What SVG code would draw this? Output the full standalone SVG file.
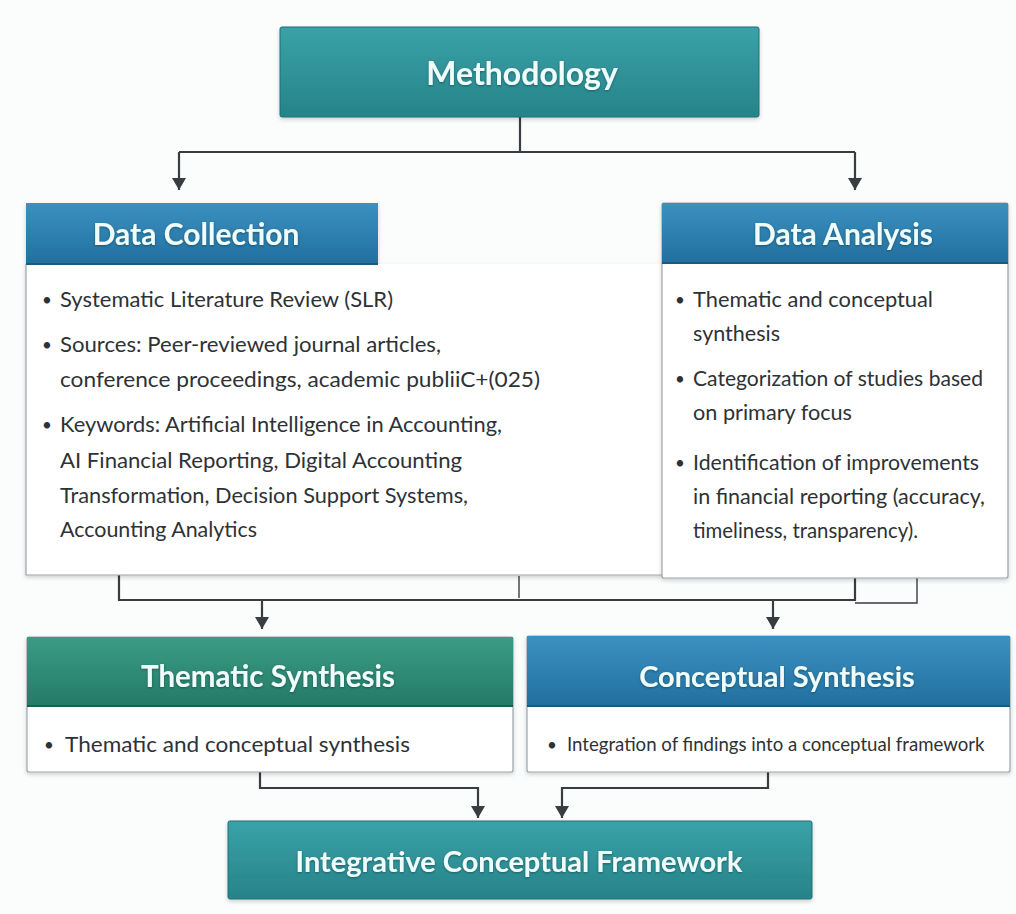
<svg xmlns="http://www.w3.org/2000/svg" width="1016" height="914" viewBox="0 0 1016 914">
  <defs>
    <style>
      .title { font-family: Lato, "Open Sans", sans-serif; font-weight: 700; fill: #effcfa; text-anchor: middle; }
      .body { font-family: Lato, "Open Sans", sans-serif; font-size: 21px; fill: #2d3236; }
      .body-sm { font-family: Lato, "Open Sans", sans-serif; font-size: 18.6px; fill: #2d3236; }
      .dot { font-family: Lato, "Open Sans", sans-serif; font-size: 17px; fill: #2d3236; }
      .card { fill: #ffffff; stroke: #9aa3aa; stroke-width: 1.2; }
      .conn { fill: none; stroke: #3a3d40; stroke-width: 2.2; }
      .thin { fill: none; stroke: #3a3d40; stroke-width: 1.4; }
    </style>
    <linearGradient id="teal" x1="0" y1="0" x2="0" y2="1">
      <stop offset="0" stop-color="#3aa2a8"/>
      <stop offset="1" stop-color="#268389"/>
    </linearGradient>
    <linearGradient id="blue" x1="0" y1="0" x2="0" y2="1">
      <stop offset="0" stop-color="#3a91c0"/>
      <stop offset="1" stop-color="#226f9f"/>
    </linearGradient>
    <linearGradient id="green" x1="0" y1="0" x2="0" y2="1">
      <stop offset="0" stop-color="#3a9c86"/>
      <stop offset="1" stop-color="#247a67"/>
    </linearGradient>
    <filter id="shadow" x="-5%" y="-5%" width="110%" height="115%">
      <feDropShadow dx="0" dy="2" stdDeviation="2" flood-color="#000" flood-opacity="0.18"/>
    </filter>
    <filter id="tshadow" x="-5%" y="-20%" width="110%" height="140%">
      <feDropShadow dx="0" dy="1" stdDeviation="1" flood-color="#0b3a40" flood-opacity="0.6"/>
    </filter>
    <marker id="arrowDown" viewBox="0 0 14 12" refX="7" refY="12" markerWidth="14" markerHeight="12" markerUnits="userSpaceOnUse" orient="0">
      <path d="M0,0 L14,0 L7,12 Z" fill="#3a3d40"/>
    </marker>
  </defs>

  <rect width="1016" height="914" fill="#fbfdfd"/>

  <!-- connectors -->
  <g id="connectors">
    <path class="conn" d="M520,117 V152"/>
    <path class="conn" d="M179,152 H855"/>
    <path class="conn" d="M179,152 V190" marker-end="url(#arrowDown)"/>
    <path class="conn" d="M855,152 V190" marker-end="url(#arrowDown)"/>

    <path class="conn" d="M119,575 V600 H855 V578"/>
    <path class="thin" d="M519,576 V598"/>
    <path class="thin" d="M855,603 H917 V578"/>
    <path class="conn" d="M262,600 V629" marker-end="url(#arrowDown)"/>
    <path class="conn" d="M773,600 V629" marker-end="url(#arrowDown)"/>

    <path class="conn" d="M260,772 V788 H478 V818" marker-end="url(#arrowDown)"/>
    <path class="conn" d="M768,772 V788 H562 V818" marker-end="url(#arrowDown)"/>
  </g>

  <!-- Methodology -->
  <g id="methodology" filter="url(#shadow)">
    <rect x="280" y="27" width="479" height="90" rx="2" fill="url(#teal)" stroke="#1f6f74" stroke-width="1"/>
    <text class="title" x="522" y="85" font-size="32" filter="url(#tshadow)">Methodology</text>
  </g>

  <!-- Data Collection -->
  <g id="data-collection">
    <g filter="url(#shadow)">
      <rect x="26" y="264" width="636" height="311" fill="#ffffff"/>
      <path d="M26,264 V575 H662" fill="none" stroke="#9aa3aa" stroke-width="1.2"/>
      <rect x="26" y="203" width="352" height="61" fill="url(#blue)"/>
    </g>
    <line x1="26" y1="264" x2="378" y2="264" stroke="#1a5a80" stroke-width="2"/>
    <text class="title" x="196" y="245" font-size="30" filter="url(#tshadow)">Data Collection</text>
    <g class="dot">
      <text x="42" y="306">•</text>
      <text x="42" y="351">•</text>
      <text x="42" y="431">•</text>
    </g>
    <g class="body">
      <text x="60" y="307" textLength="333" lengthAdjust="spacingAndGlyphs">Systematic Literature Review (SLR)</text>
      <text x="60" y="352" textLength="381" lengthAdjust="spacingAndGlyphs">Sources: Peer-reviewed journal articles,</text>
      <text x="60" y="387" textLength="480" lengthAdjust="spacingAndGlyphs">conference proceedings, academic publiiC+(025)</text>
      <text x="60" y="432" textLength="442" lengthAdjust="spacingAndGlyphs">Keywords: Artificial Intelligence in Accounting,</text>
      <text x="60" y="468" textLength="402" lengthAdjust="spacingAndGlyphs">AI Financial Reporting, Digital Accounting</text>
      <text x="60" y="503" textLength="408" lengthAdjust="spacingAndGlyphs">Transformation, Decision Support Systems,</text>
      <text x="60" y="537" textLength="197" lengthAdjust="spacingAndGlyphs">Accounting Analytics</text>
    </g>
  </g>

  <!-- Data Analysis -->
  <g id="data-analysis">
    <rect class="card" x="662" y="203" width="346" height="375" rx="2" filter="url(#shadow)"/>
    <rect x="662" y="203" width="346" height="60" fill="url(#blue)"/>
    <line x1="662" y1="263" x2="1008" y2="263" stroke="#1a5a80" stroke-width="2"/>
    <text class="title" x="843" y="245" font-size="30" filter="url(#tshadow)">Data Analysis</text>
    <g class="dot">
      <text x="675" y="306">•</text>
      <text x="675" y="385">•</text>
      <text x="675" y="469">•</text>
    </g>
    <g class="body">
      <text x="693" y="307" textLength="240" lengthAdjust="spacingAndGlyphs">Thematic and conceptual</text>
      <text x="693" y="341" textLength="87" lengthAdjust="spacingAndGlyphs">synthesis</text>
      <text x="693" y="386" textLength="290" lengthAdjust="spacingAndGlyphs">Categorization of studies based</text>
      <text x="693" y="420" textLength="159" lengthAdjust="spacingAndGlyphs">on primary focus</text>
      <text x="693" y="470" textLength="286" lengthAdjust="spacingAndGlyphs">Identification of improvements</text>
      <text x="693" y="504" textLength="292" lengthAdjust="spacingAndGlyphs">in financial reporting (accuracy,</text>
      <text x="693" y="538" textLength="225" lengthAdjust="spacingAndGlyphs">timeliness, transparency).</text>
    </g>
  </g>

  <!-- Thematic Synthesis -->
  <g id="thematic-synthesis">
    <rect class="card" x="27" y="637" width="486" height="135" rx="2" filter="url(#shadow)"/>
    <rect x="27" y="637" width="486" height="69" fill="url(#green)"/>
    <line x1="27" y1="706" x2="513" y2="706" stroke="#1c5f50" stroke-width="2"/>
    <text class="title" x="268" y="687" font-size="29.5" filter="url(#tshadow)">Thematic Synthesis</text>
    <text class="dot" x="44" y="751">•</text>
    <text class="body" x="65" y="752" textLength="345" lengthAdjust="spacingAndGlyphs">Thematic and conceptual synthesis</text>
  </g>

  <!-- Conceptual Synthesis -->
  <g id="conceptual-synthesis">
    <rect class="card" x="527" y="636" width="483" height="136" rx="2" filter="url(#shadow)"/>
    <rect x="527" y="636" width="483" height="70" fill="url(#blue)"/>
    <line x1="527" y1="706" x2="1010" y2="706" stroke="#1a5a80" stroke-width="2"/>
    <text class="title" x="777" y="687" font-size="29" filter="url(#tshadow)">Conceptual Synthesis</text>
    <text class="dot" x="547" y="751">•</text>
    <text class="body-sm" x="567" y="751">Integration of findings into a conceptual framework</text>
  </g>

  <!-- Integrative Conceptual Framework -->
  <g id="integrative-framework" filter="url(#shadow)">
    <rect x="228" y="821" width="584" height="78" rx="2" fill="url(#teal)" stroke="#1f6f74" stroke-width="1"/>
    <text class="title" x="519" y="872" font-size="29" filter="url(#tshadow)">Integrative Conceptual Framework</text>
  </g>
</svg>
